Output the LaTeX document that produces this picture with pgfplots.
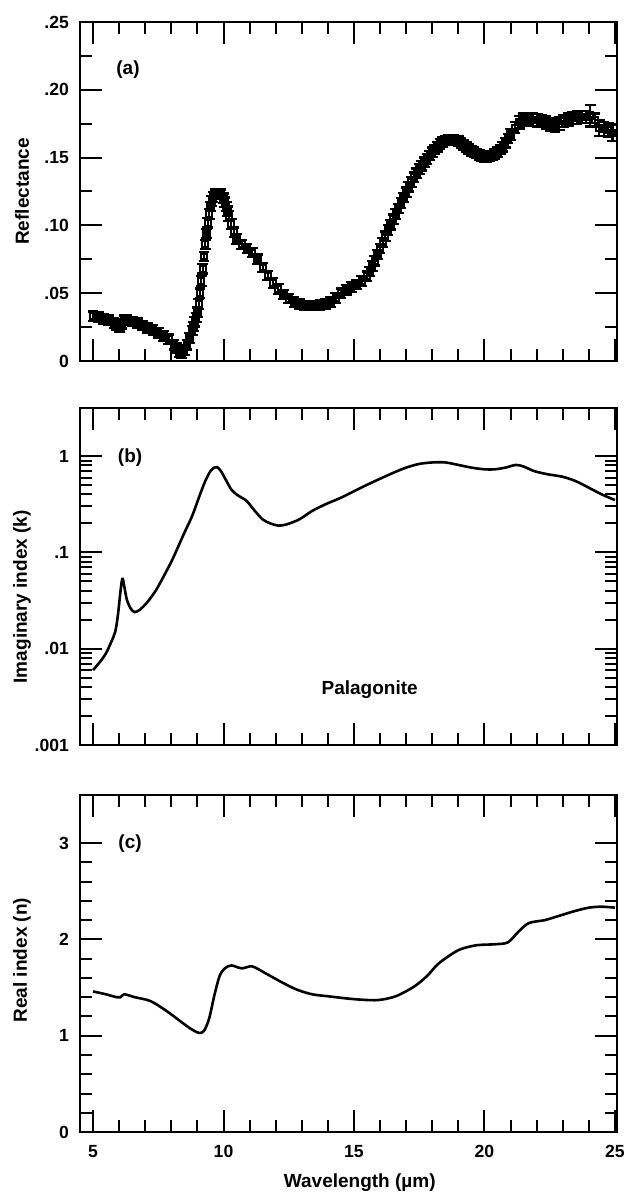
\documentclass[border=0pt]{standalone}
\usepackage{fontspec}
\setmainfont{Liberation Sans}
\usepackage{pgfplots}
\usepackage{pgfplotstable}
\pgfplotsset{compat=1.18}

% reflectance with error
\pgfplotstableread{
x y e
5.0 .0330 .0035
5.2 .0322 .0035
5.4 .0312 .0035
5.6 .0300 .0035
5.8 .0280 .0035
5.9 .0262 .0035
6.0 .0252 .0035
6.1 .0275 .0035
6.2 .0300 .0035
6.3 .0302 .0035
6.5 .0292 .0035
6.7 .0278 .0035
6.9 .0262 .0035
7.1 .0245 .0035
7.3 .0228 .0035
7.5 .0208 .0035
7.7 .0185 .0035
7.9 .0160 .0035
8.1 .0120 .0035
8.2 .0095 .0035
8.3 .0065 .0035
8.4 .0055 .0035
8.5 .0080 .0035
8.6 .0120 .0035
8.7 .0170 .0035
8.8 .0225 .0035
8.85 .0255 .0035
8.9 .0290 .0035
8.95 .0320 .0035
9.0 .0360 .0035
9.05 .0420 .0035
9.1 .0500 .0035
9.15 .0590 .0035
9.2 .0680 .0035
9.25 .0770 .0035
9.3 .0860 .0035
9.35 .0940 .0035
9.4 .1020 .0035
9.45 .1085 .0035
9.5 .1140 .0035
9.55 .1180 .0035
9.6 .1210 .0035
9.7 .1230 .0035
9.8 .1235 .0035
9.9 .1230 .0035
10.0 .1200 .0035
10.05 .1170 .0035
10.1 .1140 .0035
10.15 .1105 .0035
10.2 .1070 .0035
10.3 .1010 .0035
10.4 .0950 .0035
10.5 .0900 .0035
10.7 .0860 .0035
10.9 .0830 .0035
11.1 .0800 .0035
11.3 .0750 .0035
11.5 .0690 .0035
11.7 .0630 .0035
11.9 .0575 .0035
12.1 .0530 .0035
12.3 .0490 .0035
12.5 .0460 .0035
12.7 .0435 .0035
12.9 .0420 .0035
13.1 .0410 .0035
13.3 .0410 .0035
13.5 .0410 .0035
13.7 .0412 .0035
13.9 .0418 .0035
14.1 .0435 .0035
14.3 .0465 .0035
14.5 .0500 .0035
14.7 .0525 .0035
14.9 .0545 .0035
15.1 .0565 .0035
15.3 .0590 .0035
15.5 .0625 .0035
15.6 .0660 .0035
15.7 .0700 .0035
15.8 .0740 .0035
15.9 .0785 .0035
16.0 .0830 .0035
16.1 .0875 .0035
16.2 .0920 .0035
16.3 .0965 .0035
16.4 .1005 .0035
16.5 .1045 .0035
16.6 .1085 .0035
16.7 .1125 .0035
16.8 .1165 .0035
16.9 .1205 .0035
17.0 .1245 .0035
17.1 .1285 .0035
17.2 .1320 .0035
17.3 .1355 .0035
17.4 .1385 .0035
17.5 .1415 .0035
17.6 .1440 .0035
17.7 .1465 .0035
17.8 .1490 .0035
17.9 .1515 .0035
18.0 .1540 .0035
18.1 .1560 .0035
18.2 .1580 .0035
18.3 .1600 .0035
18.4 .1615 .0035
18.5 .1625 .0035
18.6 .1630 .0035
18.7 .1630 .0035
18.8 .1630 .0035
18.9 .1625 .0035
19.0 .1620 .0035
19.1 .1610 .0035
19.2 .1595 .0035
19.3 .1580 .0035
19.4 .1565 .0035
19.5 .1550 .0035
19.6 .1540 .0035
19.7 .1530 .0035
19.8 .1520 .0035
19.9 .1510 .0035
20.0 .1505 .0035
20.1 .1505 .0035
20.2 .1510 .0035
20.3 .1515 .0035
20.4 .1525 .0035
20.5 .1540 .0035
20.6 .1560 .0035
20.7 .1580 .0035
20.8 .1610 .0035
20.9 .1640 .0035
21.0 .1670 .004
21.17 .1720 .004
21.34 .1760 .0045
21.51 .1780 .0045
21.68 .1785 .0045
21.85 .1780 .0045
22.02 .1775 .0045
22.19 .1770 .0045
22.36 .1760 .0045
22.53 .1745 .0045
22.70 .1735 .0045
22.87 .1750 .0045
23.04 .1770 .0045
23.21 .1780 .0045
23.38 .1790 .0045
23.55 .1795 .0045
23.72 .1800 .0045
23.89 .1800 .0045
24.06 .1810 .008
24.23 .1775 .005
24.40 .1720 .006
24.57 .1710 .005
24.74 .1705 .005
24.91 .1680 .006
}\refl

% imaginary index k
\pgfplotstableread{
x k
5.0 0.0060
5.3 0.0075
5.5 0.0090
5.7 0.0118
5.85 0.0150
5.95 0.0220
6.03 0.0350
6.1 0.0500
6.14 0.0530
6.2 0.0440
6.3 0.0320
6.45 0.0260
6.6 0.0240
6.8 0.0255
7.06 0.0300
7.4 0.0400
7.7 0.0560
8.0 0.0800
8.2 0.1050
8.5 0.1600
8.8 0.2400
9.1 0.4000
9.3 0.5500
9.5 0.7000
9.65 0.7600
9.75 0.7700
9.9 0.7000
10.1 0.5600
10.3 0.4500
10.5 0.4000
10.7 0.3700
10.9 0.3400
11.2 0.2700
11.5 0.2200
11.8 0.2000
12.1 0.1900
12.4 0.1950
12.9 0.2200
13.4 0.2700
13.95 0.3200
14.5 0.3700
15.2 0.4600
15.8 0.5500
16.5 0.6700
17.0 0.7600
17.5 0.8300
18.0 0.8600
18.5 0.8600
19.0 0.8100
19.5 0.7600
20.0 0.7300
20.4 0.7300
20.8 0.7600
21.2 0.8100
21.5 0.7800
21.9 0.7000
22.4 0.6500
23.0 0.6100
23.5 0.5500
24.0 0.4700
24.5 0.4000
25.0 0.3500
}\kdat

% real index n
\pgfplotstableread{
x n
5.0 1.46
5.5 1.43
5.9 1.40
6.05 1.40
6.2 1.43
6.6 1.40
7.2 1.36
7.8 1.26
8.3 1.16
8.7 1.08
9.05 1.03
9.25 1.05
9.45 1.18
9.65 1.42
9.85 1.62
10.05 1.70
10.3 1.73
10.7 1.70
11.1 1.72
11.6 1.65
12.2 1.56
12.8 1.48
13.4 1.43
14.0 1.41
15.0 1.38
15.9 1.37
16.6 1.41
17.3 1.51
17.8 1.62
18.2 1.74
18.7 1.84
19.1 1.90
19.7 1.94
20.4 1.95
20.9 1.97
21.3 2.08
21.7 2.17
22.3 2.20
22.8 2.24
23.4 2.29
24.0 2.33
24.5 2.34
25.0 2.33
}\ndat

\begin{document}
\begin{tikzpicture}
\useasboundingbox (0,0) rectangle (314.5pt,-596pt);
\pgfplotsset{
  panel/.style={
    scale only axis, width=268.5pt,
    xmin=4.5, xmax=25.08,
    xtick={5,10,15,20,25}, minor x tick num=4,
    tick pos=both,
    major tick length=11pt, minor tick length=6pt,
    every tick/.style={black, line width=1pt},
    axis line style={line width=1.1pt},
    tick label style={font=\fontsize{8.8}{10}\selectfont\bfseries},
    /pgf/number format/assume math mode=true,
    label style={font=\fontsize{9.5}{11}\selectfont\bfseries},
    yticklabel style={xshift=-2pt},
  },
  curve/.style={black, line width=1.3pt, smooth, tension=0.5, no marks},
}
% (a) reflectance
\begin{axis}[panel, at={(40pt,-180.5pt)}, anchor=south west, height=169.5pt,
  ymin=0, ymax=0.25, ytick={0,0.05,0.1,0.15,0.2,0.25},
  yticklabels={0,.05,.10,.15,.20,.25}, minor y tick num=1,
  xticklabels={},
  ylabel={Reflectance},
  ylabel style={at={(axis description cs:-0.108,0.5)}, anchor=center}]
\addplot[black, only marks, mark=square, mark size=1.5pt, line width=1.1pt,
  error bars/.cd, y dir=both, y explicit,
  error bar style={line width=1.1pt},
  error mark options={rotate=90, mark size=2.7pt, line width=1.1pt}]
  table[x=x, y=y, y error=e] {\refl};
\node[font=\fontsize{9.5}{11}\selectfont\bfseries] at (axis cs:6.34,0.2146) {(a)};
\end{axis}
% (b) imaginary index
\begin{axis}[panel, at={(40pt,-372.5pt)}, anchor=south west, height=168.5pt,
  ymode=log, ymin=1e-3, ymax=3.162,
  ytick={0.001,0.01,0.1,1}, yticklabels={.001,.01,.1,1},
  xticklabels={},
  ylabel={Imaginary index (k)},
  ylabel style={at={(axis description cs:-0.108,0.44)}, anchor=center}]
\addplot[curve] table[x=x, y=k] {\kdat};
\node[font=\fontsize{9.5}{11}\selectfont\bfseries] at (axis cs:6.42,0.977) {(b)};
\node[font=\fontsize{9.5}{11}\selectfont\bfseries] at (axis cs:15.6,0.0038) {Palagonite};
\end{axis}
% (c) real index
\begin{axis}[panel, at={(40pt,-566pt)}, anchor=south west, height=168.5pt,
  ymin=0, ymax=3.5, ytick={0,1,2,3}, minor y tick num=4,
  xticklabel style={yshift=-3pt},
  xlabel={Wavelength (µm)},
  xlabel style={at={(axis description cs:0.521,0)}, yshift=-25.5pt, anchor=center},
  ylabel={Real index (n)},
  ylabel style={at={(axis description cs:-0.108,0.51)}, anchor=center}]
\addplot[curve] table[x=x, y=n] {\ndat};
\node[font=\fontsize{9.5}{11}\selectfont\bfseries] at (axis cs:6.42,3.0) {(c)};
\end{axis}
\end{tikzpicture}
\end{document}
